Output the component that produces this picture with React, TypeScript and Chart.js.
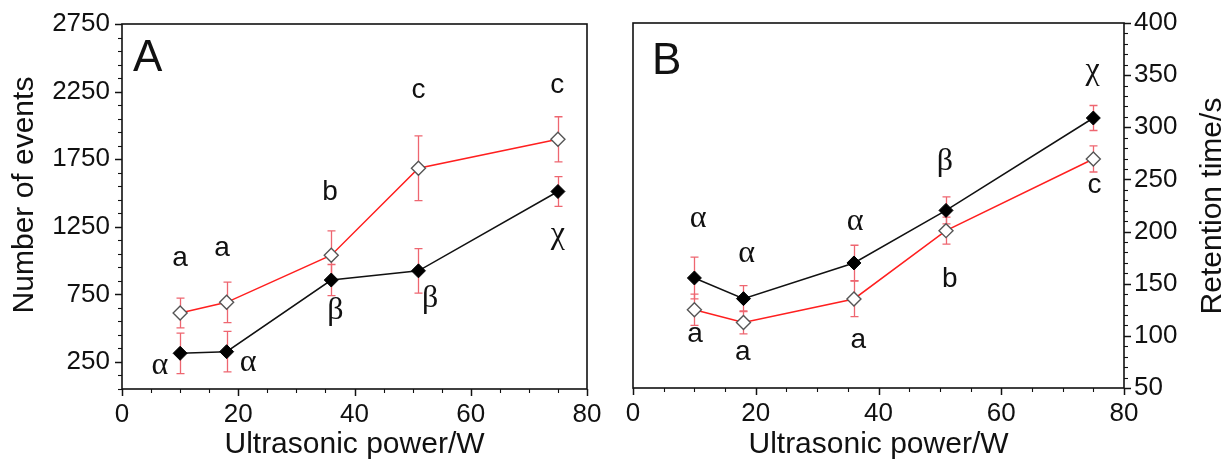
import React, { useEffect, useRef } from "react";
import { Chart, registerables } from "chart.js";

Chart.register(...registerables);

// ---------- data ----------
const power = [10, 18, 36, 51, 75];

// Panel A: number of events
const eventsFilled = [314, 326, 856, 924, 1511];
const eventsFilledErr = [150, 150, 115, 165, 110];
const eventsOpen = [612, 691, 1040, 1683, 1897];
const eventsOpenErr = [110, 150, 180, 240, 167];

// Panel B: retention time
const retFilled = [155.5, 135.7, 169.9, 220.3, 308.9];
const retFilledErr = [20, 12.5, 17, 13, 12];
const retOpen = [125.1, 112.9, 135.4, 200.9, 269.6];
const retOpenErr = [15, 11, 17, 13, 12.5];

const powerTicks = [0, 20, 40, 60, 80];
const eventsTicks = [250, 750, 1250, 1750, 2250, 2750];
const retentionTicks = [50, 100, 150, 200, 250, 300, 350, 400];

type Note = { x: number; y: number; text: string; kind: "sans" | "serif" | "big" };

const notesA: Note[] = [
  { x: 4.4, y: 2495, text: "A", kind: "big" },
  { x: 10, y: 1015, text: "a", kind: "sans" },
  { x: 17.2, y: 1090, text: "a", kind: "sans" },
  { x: 35.8, y: 1505, text: "b", kind: "sans" },
  { x: 51, y: 2262, text: "c", kind: "sans" },
  { x: 74.9, y: 2296, text: "c", kind: "sans" },
  { x: 6.5, y: 225, text: "α", kind: "serif" },
  { x: 21.7, y: 245, text: "α", kind: "serif" },
  { x: 36.7, y: 629, text: "β", kind: "serif" },
  { x: 53, y: 718, text: "β", kind: "serif" },
  { x: 75, y: 1192, text: "χ", kind: "serif" },
];

const notesB: Note[] = [
  { x: 5.5, y: 363, text: "B", kind: "big" },
  { x: 10.6, y: 212, text: "α", kind: "serif" },
  { x: 18.5, y: 179, text: "α", kind: "serif" },
  { x: 36.2, y: 210, text: "α", kind: "serif" },
  { x: 50.8, y: 267, text: "β", kind: "serif" },
  { x: 74.9, y: 354, text: "χ", kind: "serif" },
  { x: 10.1, y: 101.4, text: "a", kind: "sans" },
  { x: 17.9, y: 84.5, text: "a", kind: "sans" },
  { x: 36.7, y: 95.5, text: "a", kind: "sans" },
  { x: 51.6, y: 154, text: "b", kind: "sans" },
  { x: 75.2, y: 244.5, text: "c", kind: "sans" },
];

// ---------- styles ----------
const SANS = "'Liberation Sans', Arial, sans-serif";
const SERIF = "'Liberation Serif', 'Times New Roman', serif";
const TEXT = "#111";
const RED = "#ff1f1f";
const ERR = "#ee6670";

type PanelCfg = {
  side: "left" | "right";
  yMin: number;
  yMax: number;
  yMinorStep: number;
  yMajor: number[];
  notes: Note[];
  sideTitle: string;
  sideTitleX: number;
  sideTitleY: number;
};

function makePlugin(cfg: PanelCfg) {
  return {
    id: "panelDecor",
    beforeDatasetsDraw(chart: any) {
      const ctx = chart.ctx;
      const xs = chart.scales.x;
      const ys = chart.scales.y;
      ctx.save();
      ctx.strokeStyle = ERR;
      ctx.lineWidth = 1.3;
      chart.data.datasets.forEach((ds: any) => {
        const errs: number[] = ds.errors || [];
        ds.data.forEach((p: any, i: number) => {
          const e = errs[i];
          if (e == null) return;
          const px = Math.round(xs.getPixelForValue(p.x)) + 0.5;
          const y1 = ys.getPixelForValue(p.y + e);
          const y2 = ys.getPixelForValue(p.y - e);
          ctx.beginPath();
          ctx.moveTo(px, y1);
          ctx.lineTo(px, y2);
          ctx.moveTo(px - 4, y1);
          ctx.lineTo(px + 4, y1);
          ctx.moveTo(px - 4, y2);
          ctx.lineTo(px + 4, y2);
          ctx.stroke();
        });
      });
      ctx.restore();
    },
    afterDraw(chart: any) {
      const ctx = chart.ctx;
      const a = chart.chartArea;
      const xs = chart.scales.x;
      const ys = chart.scales.y;
      ctx.save();
      // frame
      ctx.strokeStyle = "#111";
      ctx.lineWidth = 1.6;
      ctx.strokeRect(a.left, a.top, a.right - a.left, a.bottom - a.top);
      // x ticks (every 5, major every 20)
      for (let v = 0; v <= 80; v += 5) {
        const major = v % 20 === 0;
        const px = Math.round(xs.getPixelForValue(v)) + 0.5;
        ctx.lineWidth = major ? 1.5 : 1.1;
        ctx.beginPath();
        ctx.moveTo(px, a.bottom);
        ctx.lineTo(px, a.bottom + (major ? 7 : 4));
        ctx.stroke();
      }
      // y ticks
      for (let v = cfg.yMin; v <= cfg.yMax + 1e-6; v += cfg.yMinorStep) {
        const major = cfg.yMajor.indexOf(v) >= 0;
        const py = Math.round(ys.getPixelForValue(v)) + 0.5;
        const len = major ? 7 : 4;
        ctx.lineWidth = major ? 1.5 : 1.1;
        ctx.beginPath();
        if (cfg.side === "left") {
          ctx.moveTo(a.left, py);
          ctx.lineTo(a.left - len, py);
        } else {
          ctx.moveTo(a.right, py);
          ctx.lineTo(a.right + len, py);
        }
        ctx.stroke();
      }
      // annotations
      ctx.fillStyle = TEXT;
      ctx.textAlign = "center";
      ctx.textBaseline = "middle";
      cfg.notes.forEach((n) => {
        if (n.kind === "big") ctx.font = `44px ${SANS}`;
        else if (n.kind === "serif") ctx.font = `32px ${SERIF}`;
        else ctx.font = `28px ${SANS}`;
        ctx.fillText(n.text, xs.getPixelForValue(n.x), ys.getPixelForValue(n.y));
      });
      // vertical axis title, reading bottom to top
      ctx.save();
      ctx.translate(cfg.sideTitleX, cfg.sideTitleY);
      ctx.rotate(-Math.PI / 2);
      ctx.font = `30px ${SANS}`;
      ctx.fillText(cfg.sideTitle, 0, 0);
      ctx.restore();
      ctx.restore();
    },
  };
}

function pts(vals: number[]) {
  return power.map((p, i) => ({ x: p, y: vals[i] }));
}

function filledSet(vals: number[], errs: number[]) {
  return {
    data: pts(vals),
    errors: errs,
    borderColor: "#111",
    borderWidth: 1.5,
    pointStyle: "rectRot",
    pointRadius: 7,
    pointBackgroundColor: "#000",
    pointBorderColor: "#000",
    pointBorderWidth: 1,
    tension: 0,
  };
}

function openSet(vals: number[], errs: number[]) {
  return {
    data: pts(vals),
    errors: errs,
    borderColor: RED,
    borderWidth: 1.5,
    pointStyle: "rectRot",
    pointRadius: 7,
    pointBackgroundColor: "#fff",
    pointBorderColor: "#555",
    pointBorderWidth: 1.4,
    tension: 0,
  };
}

function xScale(height: number) {
  return {
    type: "linear",
    min: 0,
    max: 80,
    afterBuildTicks: (s: any) => {
      s.ticks = powerTicks.map((v) => ({ value: v }));
    },
    ticks: {
      color: TEXT,
      font: { family: SANS, size: 26 },
      padding: 2,
      maxRotation: 0,
      callback: (v: any) => String(v),
    },
    grid: { display: false },
    border: { display: false },
    title: {
      display: true,
      text: "Ultrasonic power/W",
      color: TEXT,
      font: { family: SANS, size: 30, lineHeight: 1 },
      padding: { top: 0, bottom: 0 },
    },
    afterFit: (s: any) => {
      s.height = height;
    },
  };
}

function PanelA() {
  const ref = useRef<HTMLCanvasElement | null>(null);
  useEffect(() => {
    if (!ref.current) return;
    const chart = new Chart(ref.current, {
      type: "line",
      data: {
        datasets: [
          filledSet(eventsFilled, eventsFilledErr) as any,
          openSet(eventsOpen, eventsOpenErr) as any,
        ],
      },
      options: {
        responsive: false,
        animation: false,
        events: [],
        layout: { padding: { left: 0, top: 24, right: 28, bottom: 0 } },
        plugins: { legend: { display: false }, tooltip: { enabled: false } },
        scales: {
          x: xScale(71) as any,
          y: {
            type: "linear",
            position: "left",
            min: 50,
            max: 2750,
            afterBuildTicks: (s: any) => {
              s.ticks = eventsTicks.map((v) => ({ value: v }));
            },
            ticks: {
              color: TEXT,
              font: { family: SANS, size: 26 },
              padding: 4,
              callback: (v: any) => String(v),
            },
            grid: { display: false },
            border: { display: false },
            title: { display: false },
            afterFit: (s: any) => {
              s.width = 122;
            },
          } as any,
        },
      },
      plugins: [
        makePlugin({
          side: "left",
          yMin: 50,
          yMax: 2750,
          yMinorStep: 100,
          yMajor: eventsTicks,
          notes: notesA,
          sideTitle: "Number of events",
          sideTitleX: 25,
          sideTitleY: 195,
        }),
      ],
    });
    return () => chart.destroy();
  }, []);
  return (
    <canvas
      ref={ref}
      width={615}
      height={460}
      style={{ position: "absolute", left: 0, top: 0, width: 615, height: 460 }}
    />
  );
}

function PanelB() {
  const ref = useRef<HTMLCanvasElement | null>(null);
  useEffect(() => {
    if (!ref.current) return;
    const chart = new Chart(ref.current, {
      type: "line",
      data: {
        datasets: [
          filledSet(retFilled, retFilledErr) as any,
          openSet(retOpen, retOpenErr) as any,
        ],
      },
      options: {
        responsive: false,
        animation: false,
        events: [],
        layout: { padding: { left: 18, top: 23, right: 0, bottom: 0 } },
        plugins: { legend: { display: false }, tooltip: { enabled: false } },
        scales: {
          x: xScale(72) as any,
          y: {
            type: "linear",
            position: "right",
            min: 50,
            max: 400,
            afterBuildTicks: (s: any) => {
              s.ticks = retentionTicks.map((v) => ({ value: v }));
            },
            ticks: {
              color: TEXT,
              font: { family: SANS, size: 26 },
              padding: 2,
              callback: (v: any) => String(v),
            },
            grid: { display: false },
            border: { display: false },
            title: { display: false },
            afterFit: (s: any) => {
              s.width = 103;
            },
          } as any,
        },
      },
      plugins: [
        makePlugin({
          side: "right",
          yMin: 50,
          yMax: 400,
          yMinorStep: 10,
          yMajor: retentionTicks,
          notes: notesB,
          sideTitle: "Retention time/s",
          sideTitleX: 598,
          sideTitleY: 206,
        }),
      ],
    });
    return () => chart.destroy();
  }, []);
  return (
    <canvas
      ref={ref}
      width={612}
      height={460}
      style={{ position: "absolute", left: 615, top: 0, width: 612, height: 460 }}
    />
  );
}

export default function App() {
  return (
    <div
      style={{
        position: "absolute",
        left: 0,
        top: 0,
        width: 1227,
        height: 460,
        background: "#fff",
        overflow: "hidden",
      }}
    >
      <PanelA />
      <PanelB />
    </div>
  );
}
